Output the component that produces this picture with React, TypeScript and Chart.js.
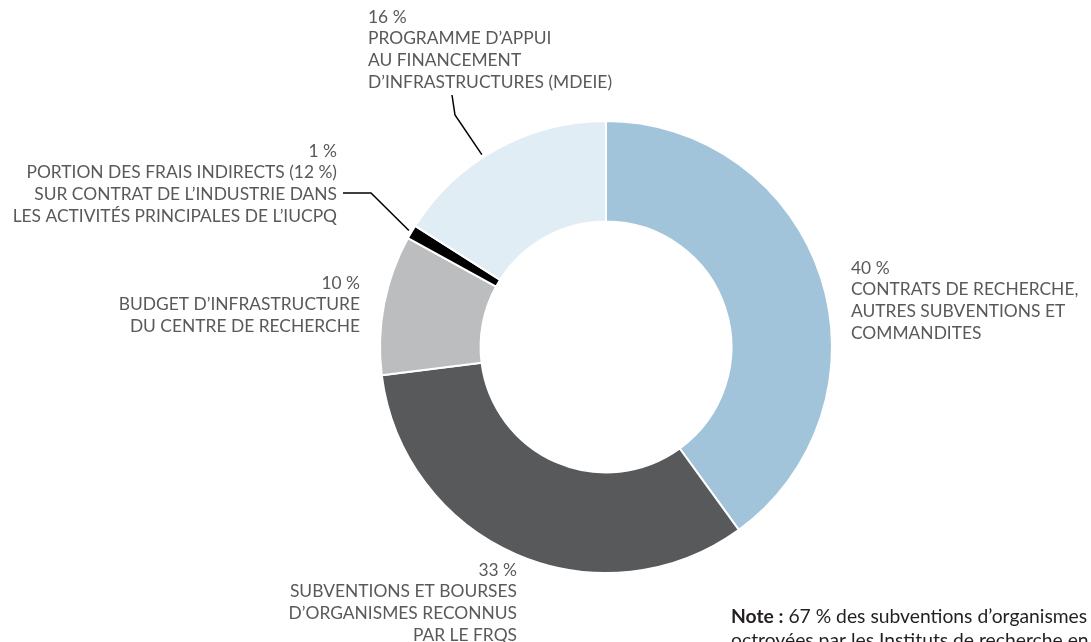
import React, { useEffect, useRef } from "react";
import { Chart, registerables } from "chart.js";

Chart.register(...registerables);

const categories = [
  "CONTRATS DE RECHERCHE,|AUTRES SUBVENTIONS ET|COMMANDITES",
  "SUBVENTIONS ET BOURSES|D\u2019ORGANISMES RECONNUS|PAR LE FRQS",
  "BUDGET D\u2019INFRASTRUCTURE|DU CENTRE DE RECHERCHE",
  "PORTION DES FRAIS INDIRECTS (12 %)|SUR CONTRAT DE L\u2019INDUSTRIE DANS|LES ACTIVIT\u00c9S PRINCIPALES DE L\u2019IUCPQ",
  "PROGRAMME D\u2019APPUI|AU FINANCEMENT|D\u2019INFRASTRUCTURES (MDEIE)",
];
const values = [40, 33, 10, 1, 16];
const colors = ["#a2c4da", "#58595b", "#bcbdbf", "#000000", "#e1edf4"];

const noteBold = "Note :";
const noteLines = [
  " 67 % des subventions d\u2019organismes reconnus",
  "octroy\u00e9es par les Instituts de recherche en sant\u00e9 du Canada",
];

// label layout: anchor x, first line y, alignment, optional leader bends and fraction along slice
const labelLayout = [
  { x: 851, y: 268, align: "left", leader: null, t: 0.5 },
  { x: 517, y: 570, align: "right", leader: null, t: 0.5 },
  { x: 360, y: 283, align: "right", leader: null, t: 0.5 },
  { x: 337, y: 151, align: "right", leader: [[343, 193], [371, 193]], t: 0.5 },
  { x: 368, y: 17, align: "left", leader: [[452, 95], [455, 115]], t: 0.43 },
];

const FONT = "Lato, 'Open Sans', sans-serif";

const labelPlugin = {
  id: "outerLabels",
  afterDraw(chart: any) {
    const ctx = chart.ctx;
    const meta = chart.getDatasetMeta(0);
    ctx.save();
    meta.data.forEach((arc: any, i: number) => {
      const lay = labelLayout[i];
      const lines = [values[i] + " %", ...categories[i].split("|")];
      ctx.fillStyle = "#58595b";
      ctx.font = "17.4px " + FONT;
      ctx.textAlign = lay.align;
      ctx.textBaseline = "middle";
      lines.forEach((ln, k) => ctx.fillText(ln, lay.x, lay.y + k * 21.8));
      if (lay.leader) {
        const p = arc.getProps(["x", "y", "startAngle", "endAngle", "outerRadius"], true);
        const a = p.startAngle + lay.t * (p.endAngle - p.startAngle);
        const r = p.outerRadius + 3;
        ctx.beginPath();
        ctx.strokeStyle = "#000";
        ctx.lineWidth = 1.5;
        ctx.moveTo(lay.leader[0][0], lay.leader[0][1]);
        for (let k = 1; k < lay.leader.length; k++) ctx.lineTo(lay.leader[k][0], lay.leader[k][1]);
        ctx.lineTo(p.x + Math.cos(a) * r, p.y + Math.sin(a) * r);
        ctx.stroke();
      }
    });
    // note
    ctx.textAlign = "left";
    ctx.textBaseline = "alphabetic";
    ctx.fillStyle = "#231f20";
    ctx.font = "bold 19.3px " + FONT;
    ctx.fillText(noteBold, 731, 623);
    const w = ctx.measureText(noteBold).width;
    ctx.font = "19.3px " + FONT;
    ctx.fillText(noteLines[0], 731 + w, 623);
    ctx.fillText(noteLines[1], 731, 647);
    ctx.restore();
  },
};

export default function App() {
  const ref = useRef<HTMLCanvasElement>(null);
  useEffect(() => {
    const chart = new Chart(ref.current!, {
      type: "doughnut",
      data: {
        labels: categories.map((c) => c.replace(/\|/g, " ")),
        datasets: [
          {
            data: values,
            backgroundColor: colors,
            borderColor: "#ffffff",
            borderWidth: 2,
          },
        ],
      },
      options: {
        responsive: false,
        animation: false,
        devicePixelRatio: 1,
        cutout: "55.5%",
        layout: { padding: { left: 379, right: 258, top: 120, bottom: 68 } },
        plugins: { legend: { display: false }, tooltip: { enabled: false } },
      },
      plugins: [labelPlugin],
    });
    return () => chart.destroy();
  }, []);
  return (
    <div style={{ position: "absolute", left: 0, top: 0, width: 1091, height: 642, overflow: "hidden", background: "#fff" }}>
      <canvas ref={ref} width={1091} height={642} />
    </div>
  );
}
